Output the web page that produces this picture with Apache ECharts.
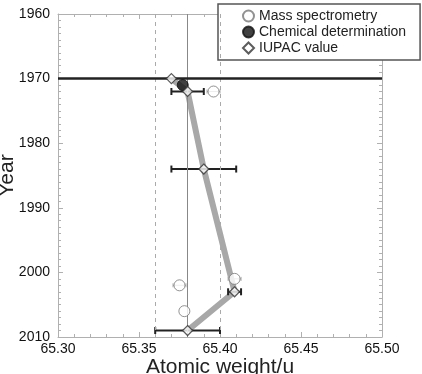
<!DOCTYPE html>
<html>
<head>
<meta charset="utf-8">
<script src="https://cdn.jsdelivr.net/npm/echarts@6/dist/echarts.min.js"></script>
<style>
  html, body { margin: 0; padding: 0; background: #fff; }
  #main { width: 422px; height: 374px; }
</style>
</head>
<body>
<div id="main"></div>
<script>
// IUPAC standard atomic weight of zinc over time
const iupacYear = [1970, 1972, 1984, 2003, 2009];
const iupacWeight = [65.37, 65.38, 65.39, 65.409, 65.38];
const iupacUnc = [0, 0.01, 0.02, 0.004, 0.02];

// mass spectrometry measurements
const msYear = [1972, 2001, 2002, 2006];
const msWeight = [65.396, 65.409, 65.375, 65.378];
const msUnc = [0.004, 0.004, 0.004, 0];

// chemical determination
const chemYear = [1971];
const chemWeight = [65.377];

const font = 'Liberation Sans, Arial, sans-serif';

function pairs(xs, ys) {
    return xs.map((x, i) => [x, ys[i]]);
}

function errData(xs, ys, us) {
    let out = [];
    xs.forEach((x, i) => {
        if (us[i] > 0) out.push([x - us[i], x + us[i], ys[i]]);
    });
    return out;
}

function errorBars(color, width, cap) {
    return function (params, api) {
        let a = api.coord([api.value(0), api.value(2)]);
        let b = api.coord([api.value(1), api.value(2)]);
        let st = { stroke: color, lineWidth: width };
        return {
            type: 'group',
            children: [
                { type: 'line', shape: { x1: a[0], y1: a[1], x2: b[0], y2: b[1] }, style: st },
                { type: 'line', shape: { x1: a[0], y1: a[1] - cap, x2: a[0], y2: a[1] + cap }, style: st },
                { type: 'line', shape: { x1: b[0], y1: b[1] - cap, x2: b[0], y2: b[1] + cap }, style: st }
            ]
        };
    };
}

const axisGray = '#b0b0b0';

function xAx(pos, main) {
    return {
        type: 'value',
        min: 65.30,
        max: 65.50,
        interval: 0.05,
        position: pos,
        name: main ? 'Atomic weight/u' : '',
        nameLocation: 'middle',
        nameGap: 20,
        nameMoveOverlap: false,
        nameTextStyle: { fontSize: 21, color: '#222', fontFamily: font },
        axisLine: { lineStyle: { color: axisGray, width: 1 } },
        axisTick: { inside: true, length: 5, lineStyle: { color: axisGray } },
        minorTick: { show: true, splitNumber: 5, length: 3, lineStyle: { color: axisGray } },
        splitLine: { show: false },
        axisLabel: { show: main, fontSize: 14, color: '#111', margin: 5, formatter: v => v.toFixed(2) }
    };
}

function yAx(pos, main) {
    return {
        type: 'value',
        min: 1960,
        max: 2010,
        interval: 10,
        inverse: true,
        position: pos,
        name: main ? 'Year' : '',
        nameLocation: 'middle',
        nameGap: 40,
        nameMoveOverlap: false,
        nameRotate: 90,
        nameTextStyle: { fontSize: 21, color: '#222', fontFamily: font },
        axisLine: { show: true, lineStyle: { color: axisGray, width: 1 } },
        axisTick: { show: true, inside: true, length: 5, lineStyle: { color: axisGray } },
        minorTick: { show: true, splitNumber: 10, length: 3, lineStyle: { color: axisGray } },
        splitLine: { show: false },
        axisLabel: { show: main, fontSize: 14, color: '#111', margin: 8, formatter: v => String(v) }
    };
}

const chart = echarts.init(document.getElementById('main'));

chart.setOption({
    animation: false,
    textStyle: { fontFamily: font },
    grid: { left: 58, right: 40, top: 14, bottom: 37, containLabel: false, outerBoundsMode: 'none' },
    legend: {
        left: 218,
        top: 4,
        orient: 'vertical',
        padding: [5, 14, 5, 24],
        itemWidth: 11,
        itemHeight: 11,
        itemGap: 2,
        borderColor: '#555',
        borderWidth: 1.5,
        backgroundColor: '#fff',
        textStyle: { fontSize: 14, color: '#222', fontFamily: font, lineHeight: 14 },
        data: ['Mass spectrometry', 'Chemical determination', 'IUPAC value']
    },
    xAxis: [xAx('bottom', true), xAx('top', false)],
    yAxis: [yAx('left', true), yAx('right', false)],
    series: [
        {
            name: 'trend',
            type: 'line',
            data: pairs(iupacWeight, iupacYear),
            symbol: 'none',
            lineStyle: { color: '#a8a8a8', width: 6 },
            z: 2,
            markLine: {
                silent: true,
                symbol: 'none',
                label: { show: false },
                data: [
                    { xAxis: 65.38, lineStyle: { color: '#888', width: 1, type: 'solid' } },
                    { xAxis: 65.36, lineStyle: { color: '#aaa', width: 1, type: [4, 4] } },
                    { xAxis: 65.40, lineStyle: { color: '#aaa', width: 1, type: [4, 4] } },
                    { yAxis: 1970, lineStyle: { color: '#222', width: 2.5, type: 'solid' } }
                ]
            }
        },
        {
            name: 'ms err',
            type: 'custom',
            renderItem: errorBars('#aaa', 1, 2),
            data: errData(msWeight, msYear, msUnc),
            encode: { x: [0, 1], y: 2 },
            z: 3
        },
        {
            name: 'iupac err',
            type: 'custom',
            renderItem: errorBars('#222', 2, 3.5),
            data: errData(iupacWeight, iupacYear, iupacUnc),
            encode: { x: [0, 1], y: 2 },
            z: 4
        },
        {
            name: 'Mass spectrometry',
            type: 'scatter',
            data: pairs(msWeight, msYear),
            symbol: 'circle',
            symbolSize: 11,
            itemStyle: { color: '#fff', borderColor: '#777', borderWidth: 1 },
            z: 5
        },
        {
            name: 'Chemical determination',
            type: 'scatter',
            data: pairs(chemWeight, chemYear),
            symbol: 'circle',
            symbolSize: 11,
            itemStyle: { color: '#111', borderColor: '#111', borderWidth: 1 },
            z: 5
        },
        {
            name: 'IUPAC value',
            type: 'scatter',
            data: pairs(iupacWeight, iupacYear),
            symbol: 'diamond',
            symbolSize: 10,
            itemStyle: { color: '#fff', borderColor: '#333', borderWidth: 1.2 },
            z: 6
        }
    ]
});
</script>
</body>
</html>
